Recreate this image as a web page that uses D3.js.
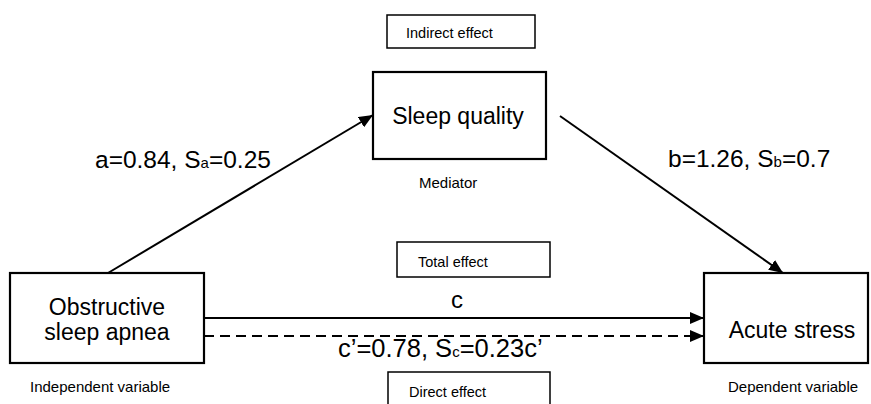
<!DOCTYPE html>
<html>
<head>
<meta charset="utf-8">
<script src="https://cdn.jsdelivr.net/npm/d3@7"></script>
<style>
  body { margin: 0; background: #fff; }
  svg { font-family: "Liberation Sans", Arial, sans-serif; }
</style>
</head>
<body>
<div id="chart"></div>
<script>
// variables in the mediation model
const nodeIds = ["x", "m", "y"];
const nodeLabels = [["Obstructive", "sleep apnea"], ["Sleep quality"], ["Acute stress"]];
const roleLabels = ["Independent variable", "Mediator", "Dependent variable"];

// path coefficients
const pathIds = ["a", "b", "c", "c'"];
const pathCoef = ["0.84", "1.26", "", "0.78"];
const pathSE = ["0.25", "0.7", "", "0.23c\u2019"];
const effectLabels = ["Indirect effect", "Total effect", "Direct effect"];

const width = 871;
const height = 404;

const svg = d3.select("#chart")
  .append("svg")
  .attr("width", width)
  .attr("height", height);

// arrow marker
svg.append("defs")
  .append("marker")
    .attr("id", "arrow")
    .attr("viewBox", "0 0 14 12")
    .attr("refX", 14)
    .attr("refY", 6)
    .attr("markerWidth", 14)
    .attr("markerHeight", 12)
    .attr("markerUnits", "userSpaceOnUse")
    .attr("orient", "auto")
  .append("path")
    .attr("d", "M0,0 L14,6 L0,12 Z")
    .attr("fill", "#000");

// layout of boxes
const boxes = {
  x: {x: 10, y: 273, w: 194, h: 90, tx: 107, ty: [315, 340]},
  m: {x: 373, y: 72, w: 173, h: 87, tx: 458, ty: [124]},
  y: {x: 704, y: 273, w: 164, h: 90, tx: 792, ty: [338]}
};
const roleText = {
  x: {x: 30, y: 392},
  m: {x: 419, y: 188},
  y: {x: 728, y: 392}
};

const nodes = nodeIds.map((id, i) => ({id, lines: nodeLabels[i], role: roleLabels[i], ...boxes[id]}));

const nodeG = svg.selectAll(".node")
  .data(nodes)
  .join("g")
    .attr("class", "node");

nodeG.append("rect")
  .attr("x", d => d.x)
  .attr("y", d => d.y)
  .attr("width", d => d.w)
  .attr("height", d => d.h)
  .attr("fill", "#fff")
  .attr("stroke", "#000")
  .attr("stroke-width", 2.2);

nodeG.append("text")
  .attr("text-anchor", "middle")
  .attr("font-size", 23)
  .selectAll("tspan")
  .data(d => d.lines.map((l, i) => ({l, i, d})))
  .join("tspan")
    .attr("x", o => o.d.tx)
    .attr("y", o => o.d.ty[o.i])
    .text(o => o.l);

nodeG.append("text")
  .attr("x", d => roleText[d.id].x)
  .attr("y", d => roleText[d.id].y)
  .attr("font-size", 15)
  .text(d => d.role);

// effect label boxes
const effectBoxes = [
  {x: 387, y: 15, w: 148, h: 33, tx: 406, ty: 38},
  {x: 397, y: 242, w: 153, h: 35, tx: 418, ty: 267},
  {x: 388, y: 372, w: 162, h: 40, tx: 409, ty: 397}
];

svg.selectAll(".effect")
  .data(effectLabels.map((t, i) => ({t, ...effectBoxes[i]})))
  .join("g")
    .attr("class", "effect")
    .call(g => g.append("rect")
      .attr("x", d => d.x)
      .attr("y", d => d.y)
      .attr("width", d => d.w)
      .attr("height", d => d.h)
      .attr("fill", "#fff")
      .attr("stroke", "#000")
      .attr("stroke-width", 1.5))
    .call(g => g.append("text")
      .attr("x", d => d.tx)
      .attr("y", d => d.ty)
      .attr("font-size", 14.5)
      .text(d => d.t));

// paths
const pathGeom = [
  {x1: 108, y1: 273, x2: 373, y2: 115, dash: null},
  {x1: 560, y1: 116, x2: 783, y2: 273, dash: null},
  {x1: 204, y1: 318, x2: 704, y2: 318, dash: null},
  {x1: 204, y1: 336, x2: 704, y2: 336, dash: "10,6"}
];

svg.selectAll(".path")
  .data(pathIds.map((id, i) => ({id, ...pathGeom[i]})))
  .join("line")
    .attr("class", "path")
    .attr("x1", d => d.x1)
    .attr("y1", d => d.y1)
    .attr("x2", d => d.x2)
    .attr("y2", d => d.y2)
    .attr("stroke", "#000")
    .attr("stroke-width", 2)
    .attr("stroke-dasharray", d => d.dash)
    .attr("marker-end", "url(#arrow)");

// coefficient labels
const labelPos = [
  {x: 95, y: 168, anchor: "start", size: 24.5},
  {x: 668, y: 167, anchor: "start", size: 24.5},
  {x: 457, y: 308, anchor: "middle", size: 24},
  {x: 338, y: 357, anchor: "start", size: 25.5}
];

pathIds.forEach((id, i) => {
  const p = labelPos[i];
  const t = svg.append("text")
    .attr("x", p.x)
    .attr("y", p.y)
    .attr("text-anchor", p.anchor)
    .attr("font-size", p.size);
  if (pathCoef[i] === "") {
    t.text(id);
    return;
  }
  const sub = id === "c'" ? "c" : id;
  const name = id === "c'" ? "c\u2019" : id;
  t.append("tspan").text(`${name}=${pathCoef[i]}, S`);
  t.append("tspan").attr("font-size", 15).text(sub);
  t.append("tspan").text(`=${pathSE[i]}`);
});
</script>
</body>
</html>
